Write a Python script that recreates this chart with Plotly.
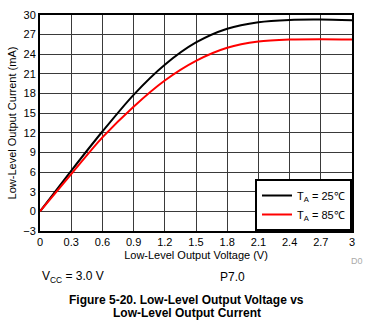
import plotly.graph_objects as go

volts = [0, 0.3, 0.6, 0.9, 1.2, 1.5, 1.8, 2.1, 2.4, 2.7, 3.0]
i_25 = [0, 6.2, 12.2, 17.8, 22.4, 25.8, 27.9, 28.9, 29.25, 29.3, 29.2]
i_85 = [0, 5.7, 11.3, 16.0, 20.0, 23.0, 25.0, 25.95, 26.25, 26.3, 26.25]

x_ticks = [0, 0.3, 0.6, 0.9, 1.2, 1.5, 1.8, 2.1, 2.4, 2.7, 3]
x_labels = ["0", "0.3", "0.6", "0.9", "1.2", "1.5", "1.8", "2.1", "2.4", "2.7", "3"]
y_ticks = [-3, 0, 3, 6, 9, 12, 15, 18, 21, 24, 27, 30]

font = "Liberation Sans, Arial, sans-serif"

fig = go.Figure()
fig.add_trace(go.Scatter(x=volts, y=i_25, mode="lines", name="T<sub>A</sub> = 25℃",
                         line=dict(color="black", width=2, shape="spline", smoothing=0.8)))
fig.add_trace(go.Scatter(x=volts, y=i_85, mode="lines", name="T<sub>A</sub> = 85℃",
                         line=dict(color="#ff0000", width=2, shape="spline", smoothing=0.8)))

axis_common = dict(showgrid=True, gridcolor="#3a3a3a", gridwidth=1, zeroline=False,
                   showline=True, linecolor="black", linewidth=2, mirror=True,
                   ticks="", tickfont=dict(size=11, color="black", family=font))

fig.update_xaxes(range=[0, 3], tickvals=x_ticks, ticktext=x_labels,
                 title=dict(text="Low-Level Output Voltage (V)", font=dict(size=11, family=font, color="black"), standoff=4),
                 **axis_common)
fig.update_yaxes(range=[-3, 30], tickvals=y_ticks,
                 title=dict(text="Low-Level Output Current (mA)", font=dict(size=11, family=font, color="black"), standoff=4),
                 **axis_common)

fig.update_layout(
    width=366, height=331,
    margin=dict(l=40, r=14, t=9, b=100),
    paper_bgcolor="white", plot_bgcolor="white",
    font=dict(family=font, color="black", size=11),
    legend=dict(x=1, y=0, xanchor="right", yanchor="bottom", bgcolor="white",
                bordercolor="black", borderwidth=2, font=dict(size=11, family=font),
                tracegroupgap=0, itemwidth=30),
    showlegend=True,
    annotations=[
        dict(text="D0", xref="paper", yref="paper", x=1.042, y=-0.14, xanchor="right", yanchor="middle",
             showarrow=False, font=dict(size=9, color="#aaaaaa", family=font)),
        dict(text="V<sub>CC</sub> = 3.0 V", xref="paper", yref="paper", x=0.0, y=-0.215, xanchor="left",
             yanchor="middle", showarrow=False, font=dict(size=12, family=font)),
        dict(text="P7.0", xref="paper", yref="paper", x=0.57, y=-0.215, xanchor="left",
             yanchor="middle", showarrow=False, font=dict(size=12, family=font)),
        dict(text="<b>Figure 5-20. Low-Level Output Voltage vs</b>",
             xref="paper", yref="paper", x=0.47, y=-0.318, xanchor="center", yanchor="middle",
             showarrow=False, font=dict(size=12, family=font)),
        dict(text="<b>Low-Level Output Current</b>",
             xref="paper", yref="paper", x=0.47, y=-0.378, xanchor="center", yanchor="middle",
             showarrow=False, font=dict(size=12, family=font)),
    ],
)

fig.write_html("out.html")
